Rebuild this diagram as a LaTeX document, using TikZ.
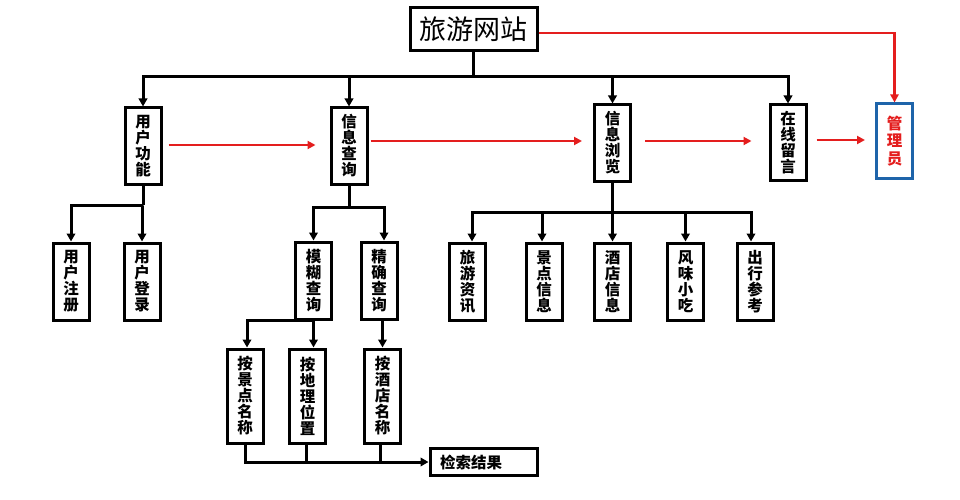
\documentclass[tikz,border=0pt]{standalone}
\usepackage{fontspec}
\newfontfamily\cjk{Noto Sans CJK SC}
\usetikzlibrary{arrows.meta,calc}
\definecolor{myred}{RGB}{228,30,30}
\definecolor{myblue}{RGB}{30,100,170}
\begin{document}
\begin{tikzpicture}[x=1pt,y=-1pt,
  vbox/.style={draw=black, line width=3pt, inner sep=0pt, minimum width=36pt,
    align=center, font=\cjk\bfseries\fontsize{15.5}{16}\selectfont},
  ln/.style={line width=3pt},
  arr/.style={line width=3pt, -{Triangle[length=8pt,width=8.5pt]}},
  rarr/.style={draw=myred, line width=2.2pt, -{Triangle[length=8pt,width=8pt]}}]
\useasboundingbox[fill=white] (0,0) rectangle (960,500);

% top
\node[draw, line width=3pt, minimum width=127pt, minimum height=43pt, inner sep=0pt,
  font=\cjk\fontsize{27}{30}\selectfont] (top) at (473.5,29.5) {旅游网站};

% level 1
\node[vbox, minimum height=76pt] (yh) at (143,146) {用\\户\\功\\能};
\node[vbox, minimum height=76pt] (xc) at (349,146) {信\\息\\查\\询};
\node[vbox, minimum height=76pt] (xl) at (612.5,143) {信\\息\\浏\\览};
\node[vbox, minimum height=75pt] (zx) at (788,142.5) {在\\线\\留\\言};
\node[vbox, draw=myblue, text=myred, minimum height=74pt,
  font=\cjk\bfseries\fontsize{15.5}{17.5}\selectfont] (gl) at (894.5,141) {管\\理\\员};

% level 2
\node[vbox, minimum height=77pt] (zc) at (71,281.5) {用\\户\\注\\册};
\node[vbox, minimum height=77pt] (dl) at (142,281.5) {用\\户\\登\\录};
\node[vbox, minimum height=77pt] (mh) at (313.5,280.5) {模\\糊\\查\\询};
\node[vbox, minimum height=77pt] (jq) at (379,280.5) {精\\确\\查\\询};
\node[vbox, minimum height=77pt] (lz) at (467.5,281.5) {旅\\游\\资\\讯};
\node[vbox, minimum height=77pt] (jd) at (544,281.5) {景\\点\\信\\息};
\node[vbox, minimum height=77pt] (jx) at (612.5,281.5) {酒\\店\\信\\息};
\node[vbox, minimum height=77pt] (fw) at (685.5,281.5) {风\\味\\小\\吃};
\node[vbox, minimum height=77pt] (cx) at (755,281.5) {出\\行\\参\\考};

% level 3
\node[vbox, minimum height=94pt] (aj) at (245,396) {按\\景\\点\\名\\称};
\node[vbox, minimum height=94pt] (pl) at (307.5,396) {按\\地\\理\\位\\置};
\node[vbox, minimum height=94pt] (ad) at (382.5,396) {按\\酒\\店\\名\\称};
\node[draw, line width=3pt, minimum width=107pt, minimum height=27pt, inner sep=0pt,
  text width=87pt, align=left, font=\cjk\bfseries\fontsize{15.5}{16}\selectfont] (js) at (483.5,462) {检索结果};

% bus coordinates
\coordinate (b1) at (473.5,77);
\coordinate (b2) at (143,205);
\coordinate (b3) at (349,207);
\coordinate (b4) at (612.5,212);

% top tree
\draw[ln] (top.south) -- (b1);
\foreach \n in {yh,xc,xl,zx} \draw[arr] (b1) -| (\n.north);
\draw[rarr] ([yshift=-3.5pt]top.east) -| (gl.north);

% red flow
\draw[rarr] ([xshift=6pt,yshift=1pt]yh.east) -- ([xshift=-14pt,yshift=1pt]xc.west);
\draw[rarr] ([xshift=2pt,yshift=5pt]xc.east) -- ([xshift=-11pt,yshift=2pt]xl.west);
\draw[rarr] ([xshift=13pt,yshift=2pt]xl.east) -- ([xshift=-17pt,yshift=1.5pt]zx.west);
\draw[rarr] ([xshift=9pt,yshift=2.5pt]zx.east) -- ([xshift=-10pt,yshift=1pt]gl.west);

% user branch
\draw[ln] (yh.south) -- (b2);
\draw[arr] (b2) -| (zc.north);
\draw[arr] (b2) -| (dl.north);

% query branch
\draw[ln] (xc.south) -- (b3);
\draw[arr] (b3) -| (mh.north);
\draw[arr] (b3) -| ([xshift=5pt]jq.north);
\draw[arr] (mh.south) -- (mh.south |- pl.north);
\draw[arr] (mh.south) -| ([xshift=2pt]aj.north);
\draw[arr] ([xshift=3.5pt]jq.south) -- (ad.north);

% results
\draw[arr] (aj.south) |- (js.west);
\draw[ln] ([xshift=-1.5pt]pl.south) -- ([xshift=-1.5pt]pl.south |- js.west);
\draw[ln] ([xshift=-2.5pt]ad.south) -- ([xshift=-2.5pt]ad.south |- js.west);

% browse branch
\draw[ln] (xl.south) -- (b4);
\draw[arr] (b4) -| ([xshift=4.5pt]lz.north);
\draw[arr] (b4) -| ([xshift=-2pt]jd.north);
\draw[arr] (b4) -- (jx.north);
\draw[arr] (b4) -| (fw.north);
\draw[arr] (b4) -| ([xshift=-4pt]cx.north);
\end{tikzpicture}
\end{document}
